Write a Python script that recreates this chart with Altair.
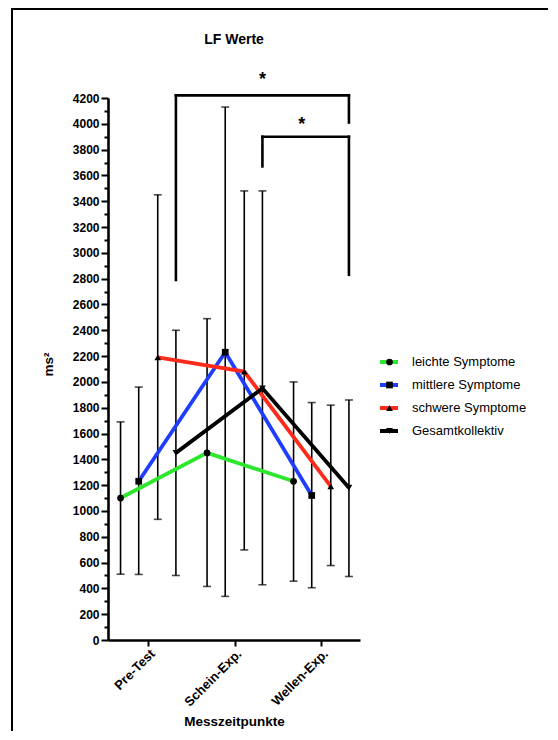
import json
import altair as alt
import pandas as pd

categories = ["Pre-Test", "Schein-Exp.", "Wellen-Exp."]
series = ["leichte Symptome", "mittlere Symptome", "schwere Symptome", "Gesamtkollektiv"]
colors = ["#2ee62e", "#1f3dff", "#ff2a1a", "#000000"]
shapes = ["circle", "square", "triangle-up", "triangle-down"]
offsets = [-0.32, -0.11, 0.11, 0.32]

mean_leicht = [1100, 1450, 1230]
mean_mittel = [1230, 2230, 1120]
mean_schwer = [2190, 2080, 1190]
mean_gesamt = [1450, 1950, 1180]

hi_leicht = [1690, 2490, 2000]
hi_mittel = [1960, 4130, 1840]
hi_schwer = [3450, 3480, 1820]
hi_gesamt = [2400, 3480, 1860]

lo_leicht = [510, 415, 456]
lo_mittel = [508, 338, 405]
lo_schwer = [935, 698, 577]
lo_gesamt = [500, 428, 492]

y_major = list(range(0, 4201, 200))
y_minor = list(range(100, 4200, 200))

# significance brackets (x in category units, y in ms²)
br_x = [1.32, 1.32, 3.32, 2.32, 2.32, 3.32]
br_x2 = [3.32, 1.32, 3.32, 3.32, 2.32, 3.32]
br_y = [4220, 2790, 4010, 3900, 3670, 2830]
br_y2 = [4220, 4220, 4220, 3900, 3900, 3900]
star_x = [2.32, 2.775]
star_y = [4340, 3990]
star_text = ["*", "*"]

chart_title = "LF Werte"

means = [mean_leicht, mean_mittel, mean_schwer, mean_gesamt]
his = [hi_leicht, hi_mittel, hi_schwer, hi_gesamt]
los = [lo_leicht, lo_mittel, lo_schwer, lo_gesamt]

rows = []
for si, s in enumerate(series):
    for ci, c in enumerate(categories):
        rows.append({
            "series": s, "s2": s, "order": si,
            "x": ci + 1 + offsets[si],
            "mean": means[si][ci], "hi": his[si][ci], "lo": los[si][ci],
        })
df = pd.DataFrame(rows)

FONT = "Liberation Sans"
W, H = 252, 542
xscale = alt.Scale(domain=[0.535, 3.448], nice=False, zero=False)
yscale = alt.Scale(domain=[0, 4200], nice=False)

label_expr = "[''," + ",".join(json.dumps(c) for c in categories) + "][datum.value]"

x_axis = alt.Axis(values=[1, 2, 3], labelExpr=label_expr, labelAngle=-45,
                  title="Messzeitpunkte", titleFontSize=13.5, titleFontWeight="bold",
                  labelFontSize=13, labelFontWeight="bold", tickSize=6, tickWidth=2,
                  labelPadding=1, titlePadding=6, grid=False, labelOverlap=False)
y_axis = alt.Axis(values=y_major, orient="left", tickSize=7, tickWidth=2,
                  format="d", labelFontSize=12, labelFontWeight="bold", labelPadding=2,
                  labelOverlap=False, labelFlush=False,
                  title="ms²", titleFontSize=13.5, titleFontWeight="bold",
                  titleX=-53, titleY=266, grid=False)
y_axis_minor = alt.Axis(values=y_minor, orient="left", tickSize=4, tickWidth=2,
                        labels=False, domain=False, title=None, grid=False)

base = alt.Chart(df)

err = base.mark_rule(color="black", strokeWidth=1.6).encode(
    x=alt.X("x:Q", scale=xscale, axis=x_axis),
    y=alt.Y("lo:Q", scale=yscale, axis=y_axis),
    y2="hi:Q",
)
cap_hi = base.mark_tick(color="black", orient="horizontal", size=8, thickness=1.6).encode(
    x="x:Q", y=alt.Y("hi:Q", axis=y_axis_minor))
cap_lo = base.mark_tick(color="black", orient="horizontal", size=8, thickness=1.6).encode(
    x="x:Q", y=alt.Y("lo:Q", axis=None))

lines = base.mark_line(strokeWidth=3.8).encode(
    x="x:Q", y=alt.Y("mean:Q", axis=None),
    color=alt.Color("series:N", scale=alt.Scale(domain=series, range=colors),
                    legend=alt.Legend(title=None, orient="none", legendX=270, legendY=256,
                                      symbolType="stroke", symbolSize=324, symbolStrokeWidth=4,
                                      labelFontSize=13, labelFont=FONT, labelOffset=12,
                                      clipHeight=16, rowPadding=7, padding=0)),
    order="order:Q",
)
points = base.mark_point(filled=True, size=45, opacity=1).encode(
    x="x:Q", y=alt.Y("mean:Q", axis=None),
    color=alt.value("black"),
    shape=alt.Shape("s2:N", sort=series, scale=alt.Scale(range=shapes),
                    legend=alt.Legend(title=None, orient="none", legendX=275, legendY=256,
                                      symbolSize=45, symbolFillColor="black", symbolStrokeWidth=0,
                                      labelExpr="''", labelFontSize=13, labelFont=FONT,
                                      clipHeight=16, rowPadding=7, padding=0)),
)

bdf = pd.DataFrame({"x": br_x, "x2": br_x2, "y": br_y, "y2": br_y2})
brackets = alt.Chart(bdf).mark_rule(color="black", strokeWidth=2.6, strokeCap="square").encode(
    x="x:Q", x2="x2:Q", y=alt.Y("y:Q", axis=None), y2="y2:Q")

sdf = pd.DataFrame({"x": star_x, "y": star_y, "t": star_text})
stars = alt.Chart(sdf).mark_text(fontSize=18, fontWeight="bold", font=FONT, baseline="middle").encode(
    x="x:Q", y=alt.Y("y:Q", axis=None), text="t:N")

title_text = alt.Chart(pd.DataFrame({"t": [chart_title]})).mark_text(
    fontSize=14, fontWeight="bold", font=FONT, baseline="alphabetic", align="center").encode(
    x=alt.value(W / 2), y=alt.value(-54), text="t:N")

frame = alt.Chart(pd.DataFrame({"a": [0]})).mark_rect(
    fill=None, stroke="black", strokeWidth=2).encode(
    x=alt.value(-96), x2=alt.value(460), y=alt.value(-89), y2=alt.value(660))

chart = alt.layer(frame, err, cap_hi, cap_lo, lines, points, brackets, stars, title_text).resolve_axis(
    y="independent"
).properties(
    width=W, height=H,
    autosize=alt.AutoSizeParams(type="none"),
    padding={"left": 100, "top": 90, "right": 188, "bottom": 91},
).configure_view(stroke=None).configure_axis(
    labelFont=FONT, titleFont=FONT, domainColor="black", domainWidth=2.6,
    tickColor="black", labelColor="black", titleColor="black",
).configure_legend(labelColor="black")

chart.save("out.html", embed_options={"renderer": "svg", "actions": False})
